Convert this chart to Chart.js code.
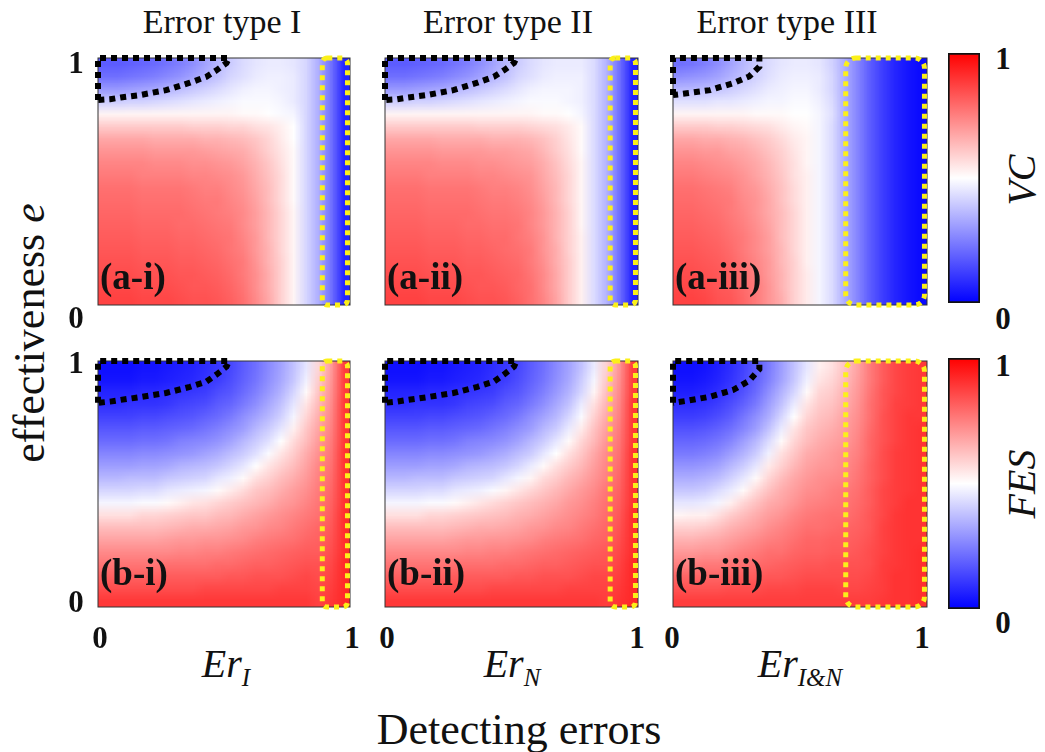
<!DOCTYPE html>
<html>
<head>
<meta charset="utf-8">
<script src="https://cdn.jsdelivr.net/npm/chart.js@4.4.0/dist/chart.umd.min.js"></script>
<style>
    body { margin: 0; background: #fff; width: 1045px; height: 752px; position: relative; overflow: hidden;
           font-family: "Liberation Serif", "Times New Roman", serif; color: #111; }
    canvas { position: absolute; }
    canvas.map { image-rendering: auto; }
    .t { position: absolute; white-space: nowrap; line-height: 1; transform: translate(-50%, -50%);
         font-family: "Liberation Serif", "Times New Roman", serif; }
    .rot { transform: translate(-50%, -50%) rotate(-90deg); }
    .title { font-size: 34px; }
    .tick { font-size: 31px; font-weight: bold; }
    .axis { font-size: 44px; }
    .er { font-size: 40px; font-style: italic; }
    .er sub { font-size: 25px; vertical-align: -0.35em; }
    .tag { font-size: 37px; font-weight: bold; transform: translate(0, -50%); }
</style>
</head>
<body>

<!-- heatmaps: one pixel per cell, stretched by the browser to the panel size -->
<canvas class="map" id="aI_map" width="20" height="20" style="left:98px;top:58px;width:252px;height:247px"></canvas>
<canvas class="map" id="aII_map" width="20" height="20" style="left:385px;top:58px;width:253px;height:247px"></canvas>
<canvas class="map" id="aIII_map" width="20" height="20" style="left:673px;top:58px;width:254px;height:247px"></canvas>
<canvas class="map" id="bI_map" width="20" height="20" style="left:98px;top:361px;width:252px;height:246px"></canvas>
<canvas class="map" id="bII_map" width="20" height="20" style="left:385px;top:361px;width:253px;height:246px"></canvas>
<canvas class="map" id="bIII_map" width="20" height="20" style="left:673px;top:361px;width:254px;height:246px"></canvas>

<!-- frames, dotted regions -->
<canvas id="aI" width="268" height="263" style="left:90px;top:50px"></canvas>
<canvas id="aII" width="269" height="263" style="left:377px;top:50px"></canvas>
<canvas id="aIII" width="270" height="263" style="left:665px;top:50px"></canvas>
<canvas id="bI" width="268" height="262" style="left:90px;top:353px"></canvas>
<canvas id="bII" width="269" height="262" style="left:377px;top:353px"></canvas>
<canvas id="bIII" width="270" height="262" style="left:665px;top:353px"></canvas>

<canvas id="cbA" width="40" height="258" style="left:944px;top:49px"></canvas>
<canvas id="cbB" width="40" height="259" style="left:944px;top:354px"></canvas>

<div class="t title" style="left:222px;top:22px">Error type I</div>
<div class="t title" style="left:508px;top:22px">Error type II</div>
<div class="t title" style="left:787px;top:22px">Error type III</div>

<div class="t tick" style="left:76px;top:62px">1</div>
<div class="t tick" style="left:76px;top:317px">0</div>
<div class="t tick" style="left:76px;top:362px">1</div>
<div class="t tick" style="left:76px;top:601px">0</div>

<div class="t tick" style="left:100px;top:637px">0</div>
<div class="t tick" style="left:352px;top:637px">1</div>
<div class="t tick" style="left:387px;top:637px">0</div>
<div class="t tick" style="left:637px;top:637px">1</div>
<div class="t tick" style="left:672px;top:637px">0</div>
<div class="t tick" style="left:922px;top:637px">1</div>

<div class="t tick" style="left:1003px;top:58px">1</div>
<div class="t tick" style="left:1003px;top:318px">0</div>
<div class="t tick" style="left:1003px;top:365px">1</div>
<div class="t tick" style="left:1003px;top:622px">0</div>

<div class="t er rot" style="left:1022px;top:180px">VC</div>
<div class="t er rot" style="left:1022px;top:484px">FES</div>

<div class="t axis rot" style="left:30px;top:333px">effectiveness <i>e</i></div>
<div class="t axis" style="left:519px;top:730px">Detecting errors</div>

<div class="t er" style="left:226px;top:667px">Er<sub>I</sub></div>
<div class="t er" style="left:512px;top:667px">Er<sub>N</sub></div>
<div class="t er" style="left:800px;top:667px">Er<sub>I&amp;N</sub></div>

<div class="t tag" style="left:100px;top:276px">(a-i)</div>
<div class="t tag" style="left:387px;top:276px">(a-ii)</div>
<div class="t tag" style="left:675px;top:276px">(a-iii)</div>
<div class="t tag" style="left:100px;top:572px">(b-i)</div>
<div class="t tag" style="left:387px;top:572px">(b-ii)</div>
<div class="t tag" style="left:675px;top:572px">(b-iii)</div>

<script>
// Detecting error (x) cell centres, 20 columns
const errCols = ['0.025', '0.075', '0.125', '0.175', '0.225', '0.275', '0.325', '0.375', '0.425', '0.475',
                 '0.525', '0.575', '0.625', '0.675', '0.725', '0.775', '0.825', '0.875', '0.925', '0.975'];
// effectiveness e row edges, top row first
const effTop = [1, 0.95, 0.9, 0.85, 0.8, 0.75, 0.7, 0.65, 0.6, 0.55, 0.5, 0.45, 0.4, 0.35, 0.3, 0.25, 0.2, 0.15, 0.1, 0.05];
const rowHeight = 0.05;

// VC values in percent, one array per e row (top row = e near 1)
const vcTypeI = [
    [18,18,19,20,21,23,25,28,32,36,40,43,45,46,46,45,42,34,22,7],
    [22,22,23,24,25,27,29,32,35,38,42,44,46,47,47,46,42,34,22,7],
    [30,30,31,32,33,35,37,39,41,43,45,47,48,48,47,46,42,34,22,7],
    [40,40,41,41,42,43,44,45,46,47,48,49,49,49,48,46,42,34,22,7],
    [52,52,52,52,52,52,52,52,52,52,52,51,51,50,49,48,42,34,22,7],
    [60,60,60,60,60,60,60,59,59,59,58,58,56,55,53,50,42,34,22,7],
    [67,67,67,67,66,66,66,66,65,65,64,63,61,58,54,50,42,34,22,7],
    [71,71,71,71,70,70,70,70,69,68,67,66,63,59,55,51,42,34,22,7],
    [74,74,74,74,73,73,73,72,72,71,70,68,65,61,56,51,42,34,22,7],
    [76,76,76,75,75,75,75,74,74,73,72,70,66,62,57,51,42,34,22,7],
    [78,78,78,77,77,77,77,76,75,75,73,71,67,63,57,51,42,34,22,7],
    [79,79,79,78,78,78,78,77,76,76,74,72,68,63,57,51,42,34,22,7],
    [80,80,80,79,79,79,79,78,77,76,75,73,69,64,58,52,42,34,22,7],
    [81,81,81,80,80,80,79,79,78,77,76,73,69,64,58,52,42,34,22,7],
    [82,82,82,81,81,81,80,80,79,78,77,74,70,64,58,52,42,34,22,7],
    [83,83,83,82,82,82,81,81,80,79,77,75,70,65,58,52,42,34,22,7],
    [84,84,84,83,83,83,82,82,81,80,78,76,71,65,59,52,42,34,22,7],
    [85,85,85,84,84,84,83,83,82,81,79,76,72,66,59,52,42,34,22,7],
    [86,86,86,85,85,85,84,83,83,82,80,77,72,66,59,52,42,34,22,7],
    [87,87,87,86,86,86,85,84,84,83,81,78,73,67,59,52,42,34,22,7]
];
const vcTypeII = [
    [18,18,19,20,21,23,25,28,32,36,40,43,45,46,46,46,43,35,22,7],
    [22,22,23,24,25,27,29,32,35,38,42,44,46,47,47,47,43,35,22,7],
    [30,30,31,32,33,35,37,39,41,43,45,47,48,48,48,47,43,35,22,7],
    [40,40,41,41,42,43,44,45,46,47,48,49,49,49,48,47,43,35,22,7],
    [52,52,52,52,52,52,52,52,52,52,52,52,51,51,50,48,43,35,22,7],
    [60,60,60,60,60,60,60,59,59,59,59,58,57,56,54,51,43,35,22,7],
    [67,67,67,67,66,66,66,66,65,65,65,64,62,59,55,51,43,35,22,7],
    [71,71,71,71,70,70,70,70,69,69,68,67,64,60,56,51,43,35,22,7],
    [74,74,74,74,73,73,73,72,72,71,70,69,66,62,57,52,43,35,22,7],
    [76,76,76,75,75,75,75,74,74,73,72,71,67,63,58,52,43,35,22,7],
    [78,78,78,77,77,77,77,76,75,75,74,72,68,64,58,52,43,35,22,7],
    [79,79,79,78,78,78,78,77,76,76,75,73,69,64,58,52,43,35,22,7],
    [80,80,80,79,79,79,79,78,77,77,76,74,70,65,59,52,43,35,22,7],
    [81,81,81,80,80,80,79,79,78,78,77,74,70,65,59,52,43,35,22,7],
    [82,82,82,81,81,81,80,80,79,79,77,75,71,65,59,53,43,35,22,7],
    [83,83,83,82,82,82,81,81,80,79,78,76,71,66,59,53,43,35,22,7],
    [84,84,84,83,83,83,82,82,81,80,79,76,72,66,60,53,43,35,22,7],
    [85,85,85,84,84,84,83,83,82,81,80,77,73,67,60,53,43,35,22,7],
    [86,86,86,85,85,85,84,83,83,82,80,78,73,67,60,53,43,35,22,7],
    [87,87,87,86,86,86,85,84,84,83,81,78,74,68,60,53,43,35,22,7]
];
const vcTypeIII = [
    [22,23,25,28,32,36,40,43,45,46,46,45,41,34,26,18,12,7,4,2],
    [28,29,30,32,35,38,41,44,46,47,47,46,42,34,26,18,12,7,4,2],
    [36,36,37,38,40,42,44,46,47,48,48,46,42,34,26,18,12,7,4,2],
    [44,44,44,45,45,46,47,48,48,49,49,47,43,34,26,18,12,7,4,2],
    [52,52,52,52,52,52,51,51,51,50,50,48,44,34,26,18,12,7,4,2],
    [60,60,60,59,59,58,57,56,54,52,51,48,43,34,26,18,12,7,4,2],
    [67,67,66,66,65,64,62,60,57,54,52,48,43,34,26,18,12,7,4,2],
    [71,71,70,70,68,67,65,62,59,55,52,48,43,34,26,18,12,7,4,2],
    [74,74,73,72,71,69,67,64,60,56,52,48,43,34,26,18,12,7,4,2],
    [76,76,75,74,73,71,68,65,61,56,53,48,43,34,26,18,12,7,4,2],
    [78,78,77,76,75,72,70,66,62,57,53,48,43,34,26,18,12,7,4,2],
    [79,79,78,77,76,73,71,67,62,57,53,48,43,34,26,18,12,7,4,2],
    [80,80,79,78,76,74,71,67,63,58,53,48,43,34,26,18,12,7,4,2],
    [81,81,80,79,77,75,72,68,63,58,53,48,43,34,26,18,12,7,4,2],
    [82,82,81,80,78,76,73,69,63,58,53,48,43,34,26,18,12,7,4,2],
    [83,83,82,81,79,76,73,69,64,58,53,48,43,34,26,18,12,7,4,2],
    [84,84,83,82,80,77,74,70,64,59,53,48,43,34,26,18,12,7,4,2],
    [85,85,84,83,81,78,75,70,65,59,54,48,43,34,26,18,12,7,4,2],
    [86,86,85,83,82,79,76,71,65,59,54,48,43,34,26,18,12,7,4,2],
    [87,87,86,84,83,80,76,71,66,59,54,48,43,34,26,18,12,7,4,2]
];

// FES values in percent, same layout
const fesTypeI = [
    [3,3,3,4,4,5,6,7,9,11,14,18,22,27,32,38,45,58,70,88],
    [4,4,4,5,5,6,7,8,10,12,15,19,23,28,33,39,47,60,71,88],
    [7,7,7,8,8,9,10,11,12,15,17,21,25,30,35,42,51,62,72,88],
    [9,9,10,10,10,11,13,14,15,18,20,24,28,33,38,45,55,64,73,89],
    [13,13,13,14,14,15,16,17,19,21,24,28,32,36,41,48,58,66,74,89],
    [17,17,17,18,18,19,20,21,23,25,28,31,36,40,45,53,61,68,75,89],
    [21,21,21,22,22,23,25,26,27,29,32,36,40,44,50,57,63,70,76,89],
    [26,26,26,27,27,28,29,30,32,34,37,40,44,49,55,60,66,72,77,90],
    [31,31,31,32,32,33,35,36,37,39,42,45,50,55,59,63,68,74,78,90],
    [36,36,37,37,37,39,40,41,42,45,47,51,56,59,63,66,70,75,79,90],
    [42,42,42,43,43,45,46,47,48,51,54,57,61,63,66,69,72,76,80,90],
    [48,48,48,49,49,51,53,55,56,58,60,62,64,66,69,71,74,77,81,90],
    [56,56,56,58,58,59,60,61,61,63,64,66,68,70,72,74,76,78,82,91],
    [63,63,63,63,63,64,65,66,66,67,68,70,71,73,74,76,78,80,83,91],
    [68,68,68,68,68,69,70,70,71,71,72,73,75,76,77,78,80,81,84,91],
    [73,73,73,73,73,73,74,74,75,75,76,77,78,79,80,81,82,82,85,91],
    [77,77,77,77,77,78,78,78,78,79,79,80,81,81,82,83,84,84,86,92],
    [81,81,81,81,81,82,82,82,82,82,83,83,84,84,84,85,86,85,87,92],
    [85,85,85,85,85,85,85,85,86,86,86,86,86,86,87,87,87,86,88,92],
    [89,89,89,89,89,89,89,89,89,89,89,89,89,89,89,89,89,87,89,92]
];
const fesTypeII = [
    [3,3,3,4,4,5,6,7,9,11,14,18,22,27,32,38,46,59,71,88],
    [4,4,4,5,5,6,7,8,10,12,15,19,23,28,33,40,48,61,72,88],
    [7,7,7,8,8,9,10,11,12,15,17,21,25,30,35,42,52,63,73,88],
    [9,9,10,10,10,11,13,14,15,18,20,24,28,33,38,46,56,65,74,89],
    [13,13,13,14,14,15,16,17,19,21,24,28,32,36,42,49,59,67,75,89],
    [17,17,17,18,18,19,20,21,23,25,28,31,36,40,46,54,62,69,76,89],
    [21,21,21,22,22,23,25,26,27,29,32,36,40,45,51,58,64,71,77,89],
    [26,26,26,27,27,28,29,30,32,34,37,40,45,50,56,61,67,73,78,90],
    [31,31,31,32,32,33,35,36,37,39,42,46,51,56,60,64,69,74,79,90],
    [36,36,37,37,37,39,40,41,42,45,48,52,57,60,64,67,71,75,80,90],
    [42,42,42,43,43,45,46,47,49,52,55,58,61,64,67,70,73,77,81,90],
    [48,48,48,49,49,51,53,55,57,59,61,63,65,67,70,72,75,78,82,90],
    [56,56,56,58,58,59,60,61,62,63,65,66,68,70,72,74,76,79,83,91],
    [63,63,63,63,63,64,65,66,66,67,68,70,71,73,74,76,78,80,84,91],
    [68,68,68,68,68,69,70,70,71,71,72,73,75,76,77,78,80,81,85,91],
    [73,73,73,73,73,73,74,74,75,75,76,77,78,79,80,81,82,83,86,91],
    [77,77,77,77,77,78,78,78,78,79,79,80,81,81,82,83,84,84,87,92],
    [81,81,81,81,81,82,82,82,82,82,83,83,84,84,84,85,86,86,88,92],
    [85,85,85,85,85,85,85,85,86,86,86,86,86,86,87,87,87,87,89,92],
    [89,89,89,89,89,89,89,89,89,89,89,89,89,89,89,89,89,88,90,92]
];
const fesTypeIII = [
    [3,3,4,6,9,13,18,24,31,38,45,53,56,62,68,76,82,86,88,89],
    [4,4,5,7,10,14,19,25,32,39,47,55,58,63,69,76,82,86,88,89],
    [6,6,7,9,12,16,21,28,35,42,51,58,60,65,70,77,83,86,88,89],
    [9,9,10,12,15,19,24,31,38,46,55,60,62,66,71,78,83,87,88,89],
    [12,12,13,15,18,23,28,34,42,50,58,62,64,68,72,78,84,87,89,89],
    [16,16,17,19,22,26,31,38,46,55,61,64,66,69,73,79,84,87,89,90],
    [20,20,21,23,26,31,36,43,51,58,63,66,68,70,74,80,84,87,89,90],
    [24,24,25,27,31,35,40,47,56,61,66,68,70,72,75,80,85,88,89,90],
    [29,29,30,32,36,40,45,54,59,64,68,70,71,73,76,81,85,88,89,90],
    [34,34,35,37,41,45,51,58,63,67,70,72,73,74,77,81,85,88,89,90],
    [39,39,40,43,46,51,57,62,66,69,72,73,75,76,78,82,86,88,89,90],
    [45,45,46,48,53,58,62,66,68,71,74,75,76,77,79,82,86,88,90,90],
    [52,53,53,56,60,63,66,69,71,74,76,77,78,78,80,83,86,89,90,90],
    [59,59,60,62,65,67,69,72,74,76,78,78,79,80,81,83,87,89,90,90],
    [65,65,66,67,69,71,73,75,76,78,80,80,81,81,82,84,87,89,90,90],
    [70,70,71,71,73,75,76,78,78,80,81,81,82,82,83,85,87,89,90,91],
    [75,75,76,76,77,78,79,80,81,82,83,83,84,84,84,85,88,89,90,91],
    [80,80,80,80,81,82,82,83,83,84,85,85,85,85,85,86,88,90,90,91],
    [84,84,84,84,85,85,85,86,86,86,87,87,87,86,86,87,88,90,90,91],
    [88,88,88,88,88,88,88,88,88,88,88,88,88,88,88,88,89,90,90,91]
];

// black dotted region (top-left corner)
const cornerX_I = [0, 0, 0.52, 0.51, 0.47, 0.43, 0.365, 0.27, 0.167, 0.09, 0.048, 0];
const cornerY_aI = [0.83, 1, 1, 0.98, 0.95, 0.924, 0.9, 0.87, 0.85, 0.84, 0.833, 0.83];
const cornerY_bI = [0.83, 1, 1, 0.977, 0.945, 0.916, 0.895, 0.87, 0.853, 0.842, 0.835, 0.83];
const cornerX_III = [0, 0, 0.34, 0.34, 0.3, 0.236, 0.146, 0.054, 0];
const cornerY_aIII = [0.85, 1, 1, 0.965, 0.925, 0.898, 0.87, 0.857, 0.85];
const cornerY_bIII = [0.83, 1, 1, 0.967, 0.92, 0.882, 0.855, 0.838, 0.83];

// yellow dotted box: start of the region on the error axis
const boxStart = { I: 0.89, II: 0.89, III: 0.68 };
const boxEnd = 0.99;

// colour bar range and stops
const cbarRange = [0, 1];
const cbarStops = [0, 50, 100];

function bwr(p) {
    const v = p / 100;
    if (v < 0.5) {
        const k = Math.round(510 * v);
        return `rgb(${k},${k},255)`;
    }
    const k = Math.round(510 * (1 - v));
    return `rgb(255,${k},${k})`;
}

const quiet = {
    responsive: false,
    animation: false,
    events: []
};

// cell grid, drawn as floating bars, one dataset per e row
function makeMap(id, grid) {
    const datasets = grid.map((row, r) => ({
        data: row.map(() => [effTop[r] - rowHeight, effTop[r]]),
        backgroundColor: row.map(bwr),
        borderWidth: 0,
        inflateAmount: 0,
        grouped: false,
        barPercentage: 1,
        categoryPercentage: 1
    }));

    new Chart(document.getElementById(id), {
        type: 'bar',
        data: { labels: errCols, datasets: datasets },
        options: {
            ...quiet,
            layout: { padding: 0 },
            scales: {
                x: { type: 'category', display: false },
                y: { type: 'linear', min: 0, max: 1, display: false }
            },
            plugins: { legend: { display: false }, tooltip: { enabled: false } }
        }
    });
}

// frame + yellow box
const panelDeco = {
    id: 'panelDeco',
    beforeDatasetsDraw(chart) {
        const ctx = chart.ctx;
        const a = chart.chartArea;
        ctx.save();
        ctx.strokeStyle = '#333';
        ctx.lineWidth = 1;
        ctx.strokeRect(a.left, a.top, a.right - a.left, a.bottom - a.top);
        ctx.restore();
    },
    afterDatasetsDraw(chart, args, opts) {
        const ctx = chart.ctx;
        const xs = chart.scales.x, ys = chart.scales.y;
        const x0 = xs.getPixelForValue(opts.start);
        const x1 = xs.getPixelForValue(boxEnd);
        const y0 = ys.getPixelForValue(1);
        const y1 = ys.getPixelForValue(0);
        ctx.save();
        ctx.strokeStyle = '#fbf01a';
        ctx.lineWidth = 5;
        ctx.setLineDash([5, 5]);
        ctx.beginPath();
        ctx.roundRect(x0, y0, x1 - x0, y1 - y0, opts.radius);
        ctx.stroke();
        ctx.restore();
    }
};

function makeOverlay(id, cx, cy, start, radius) {
    new Chart(document.getElementById(id), {
        type: 'line',
        data: {
            datasets: [{
                data: cx.map((x, i) => ({ x: x, y: cy[i] })),
                borderColor: '#000',
                borderWidth: 6,
                borderDash: [6, 5],
                borderCapStyle: 'butt',
                pointRadius: 0,
                tension: 0,
                fill: false,
                clip: 8
            }]
        },
        options: {
            ...quiet,
            layout: { padding: 8 },
            scales: {
                x: { type: 'linear', min: 0, max: 1, display: false },
                y: { type: 'linear', min: 0, max: 1, display: false }
            },
            plugins: {
                legend: { display: false },
                tooltip: { enabled: false },
                panelDeco: { start: start, radius: radius }
            }
        },
        plugins: [panelDeco]
    });
}

function makeColorbar(id) {
    new Chart(document.getElementById(id), {
        type: 'bar',
        data: {
            labels: ['cb'],
            datasets: [{
                data: [cbarRange],
                backgroundColor: (c) => {
                    const a = c.chart.chartArea;
                    if (!a) return bwr(50);
                    const g = c.chart.ctx.createLinearGradient(0, a.bottom, 0, a.top);
                    cbarStops.forEach(s => g.addColorStop(s / 100, bwr(s)));
                    return g;
                },
                borderColor: '#111',
                borderWidth: 2,
                borderSkipped: false,
                barPercentage: 1,
                categoryPercentage: 1
            }]
        },
        options: {
            ...quiet,
            layout: { padding: 4 },
            scales: {
                x: { display: false },
                y: { min: 0, max: 1, display: false }
            },
            plugins: { legend: { display: false }, tooltip: { enabled: false } }
        }
    });
}

makeMap('aI_map', vcTypeI);
makeMap('aII_map', vcTypeII);
makeMap('aIII_map', vcTypeIII);
makeMap('bI_map', fesTypeI);
makeMap('bII_map', fesTypeII);
makeMap('bIII_map', fesTypeIII);

makeOverlay('aI', cornerX_I, cornerY_aI, boxStart.I, 5);
makeOverlay('aII', cornerX_I, cornerY_aI, boxStart.II, 5);
makeOverlay('aIII', cornerX_III, cornerY_aIII, boxStart.III, 10);
makeOverlay('bI', cornerX_I, cornerY_bI, boxStart.I, 5);
makeOverlay('bII', cornerX_I, cornerY_bI, boxStart.II, 5);
makeOverlay('bIII', cornerX_III, cornerY_bIII, boxStart.III, 10);

makeColorbar('cbA');
makeColorbar('cbB');
</script>
</body>
</html>
